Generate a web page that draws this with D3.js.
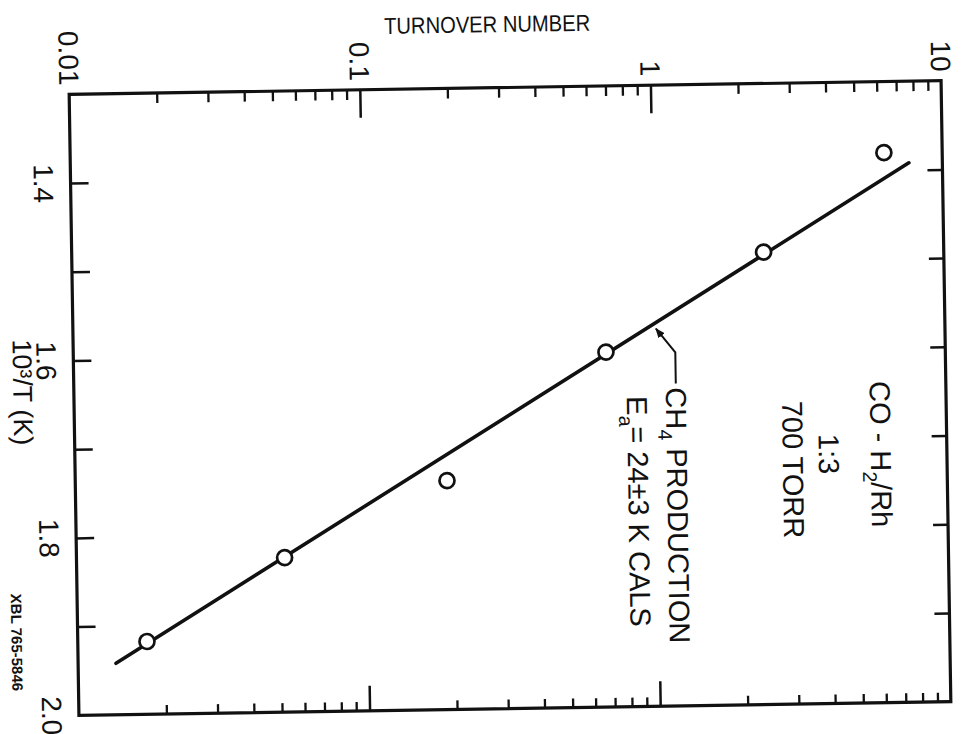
<!DOCTYPE html>
<html>
<head>
<meta charset="utf-8">
<script src="https://cdn.jsdelivr.net/npm/d3@7.9.0/dist/d3.min.js"></script>
<style>
  html, body { margin: 0; padding: 0; background: #fff; }
  svg { display: block; font-family: 'Liberation Sans', Arial, sans-serif; }
</style>
</head>
<body>
<div id="chart"></div>
<script>
// values (10^3/T in 1/K, turnover number)
const invTemp = [1.38, 1.49, 1.60, 1.742, 1.826, 1.918];
const turnover = [6.3, 2.4, 0.68, 0.19, 0.052, 0.0173];

// ends of the drawn Arrhenius fit line
const fitInvTemp = [1.392, 1.942];
const fitTurnover = [7.67, 0.0135];

const turnoverMajor = [0.01, 0.1, 1, 10];
const turnoverLabels = ['0.01', '0.1', '1', '10'];
const invTempTicks = [1.4, 1.5, 1.6, 1.7, 1.8, 1.9];
const invTempLabelVals = [1.4, 1.6, 1.8, 2.0];
const invTempLabels = ['1.4', '1.6', '1.8', '2.0'];

const width = 963;
const height = 734;
const mLeft = 74, mRight = 946, mTop = 87.5, mBottom = 708.5;

const svg = d3
  .select('#chart')
  .append('svg')
  .attr('width', width)
  .attr('height', height);

svg.append('rect').attr('width', width).attr('height', height).attr('fill', '#fff');

// the scan is tilted a little
const g = svg.append('g').attr('transform', 'rotate(-0.9, 510, 398)');

const x = d3.scaleLog().domain([0.01, 10]).range([mLeft, mRight]);
const y = d3.scaleLinear().domain([1.3, 2.0]).range([mTop, mBottom]);

// minor log ticks 2..9 in each decade
const minorTurn = [];
[0.01, 0.1, 1].forEach((d) => {
  for (let k = 2; k <= 9; k++) minorTurn.push(+(d * k).toPrecision(3));
});
const innerMajor = [0.1, 1];

function cleanAxis(sel, sw) {
  sel.select('.domain').remove();
  sel.selectAll('.tick line').attr('stroke', '#111').attr('stroke-width', sw);
  sel.selectAll('.tick text').remove();
}

// top ticks (pointing into the plot)
g.append('g')
  .attr('transform', `translate(0,${mTop})`)
  .call(d3.axisTop(x).tickValues(minorTurn).tickSizeInner(-10).tickSizeOuter(0).tickFormat(''))
  .call(cleanAxis, 2.3);
g.append('g')
  .attr('transform', `translate(0,${mTop})`)
  .call(d3.axisTop(x).tickValues(innerMajor).tickSizeInner(-28).tickSizeOuter(0).tickFormat(''))
  .call(cleanAxis, 2.5);

// bottom ticks
g.append('g')
  .attr('transform', `translate(0,${mBottom})`)
  .call(d3.axisBottom(x).tickValues(minorTurn).tickSizeInner(-9).tickSizeOuter(0).tickFormat(''))
  .call(cleanAxis, 2.3);
g.append('g')
  .attr('transform', `translate(0,${mBottom})`)
  .call(d3.axisBottom(x).tickValues(innerMajor).tickSizeInner(-25).tickSizeOuter(0).tickFormat(''))
  .call(cleanAxis, 2.5);

// left / right ticks
g.append('g')
  .attr('transform', `translate(${mLeft},0)`)
  .call(d3.axisLeft(y).tickValues(invTempTicks).tickSizeInner(-18).tickSizeOuter(0).tickFormat(''))
  .call(cleanAxis, 2.5);
g.append('g')
  .attr('transform', `translate(${mRight},0)`)
  .call(d3.axisRight(y).tickValues(invTempTicks).tickSizeInner(-15).tickSizeOuter(0).tickFormat(''))
  .call(cleanAxis, 2.5);

// frame
g.append('rect')
  .attr('x', mLeft)
  .attr('y', mTop)
  .attr('width', mRight - mLeft)
  .attr('height', mBottom - mTop)
  .attr('fill', 'none')
  .attr('stroke', '#111')
  .attr('stroke-width', 3.2);

// top tick labels, turned like the rest of the figure
g.selectAll('text.tlab')
  .data(turnoverMajor)
  .join('text')
  .attr('class', 'tlab')
  .attr('transform', (d) => `translate(${x(d)},${mTop - 9}) rotate(90)`)
  .attr('text-anchor', 'end')
  .attr('dy', '0.35em')
  .attr('font-size', 28)
  .attr('fill', '#111')
  .text((d, i) => turnoverLabels[i]);

g.append('text')
  .attr('x', 493)
  .attr('y', 32)
  .attr('text-anchor', 'middle')
  .attr('font-size', 23)
  .attr('textLength', 206)
  .attr('lengthAdjust', 'spacingAndGlyphs')
  .attr('fill', '#111')
  .text('TURNOVER NUMBER');

// left tick labels
g.selectAll('text.ylab')
  .data(invTempLabelVals)
  .join('text')
  .attr('class', 'ylab')
  .attr('transform', (d) => `translate(${mLeft - 27},${y(d)}) rotate(90)`)
  .attr('text-anchor', 'middle')
  .attr('dy', '0.35em')
  .attr('font-size', 28)
  .attr('fill', '#111')
  .text((d, i) => invTempLabels[i]);

g.append('text')
  .attr('transform', `translate(23,${y(1.635)}) rotate(90)`)
  .attr('text-anchor', 'middle')
  .attr('dy', '0.35em')
  .attr('font-size', 27)
  .attr('fill', '#111')
  .text('10³/T (K)');

g.append('text')
  .attr('transform', 'translate(13,586) rotate(90)')
  .attr('text-anchor', 'start')
  .attr('dy', '0.35em')
  .attr('font-size', 15)
  .attr('font-weight', 'bold')
  .attr('fill', '#111')
  .text('XBL 765-5846');

// fit line
const line = d3
  .line()
  .x((d) => x(d[1]))
  .y((d) => y(d[0]));
g.append('path')
  .datum(d3.zip(fitInvTemp, fitTurnover))
  .attr('d', line)
  .attr('fill', 'none')
  .attr('stroke', '#111')
  .attr('stroke-width', 3.6)
  .attr('stroke-linecap', 'round');

// measured points
g.selectAll('circle.pt')
  .data(d3.zip(invTemp, turnover))
  .join('circle')
  .attr('class', 'pt')
  .attr('cx', (d) => x(d[1]))
  .attr('cy', (d) => y(d[0]))
  .attr('r', 7.5)
  .attr('fill', '#fff')
  .attr('stroke', '#111')
  .attr('stroke-width', 2.7);

// leader from the label to the fit line
const defs = svg.append('defs');
defs
  .append('marker')
  .attr('id', 'arrow')
  .attr('viewBox', '0 0 10 10')
  .attr('refX', 9)
  .attr('refY', 5)
  .attr('markerWidth', 5)
  .attr('markerHeight', 5)
  .attr('orient', 'auto')
  .append('path')
  .attr('d', 'M0,1 L10,5 L0,9 Z')
  .attr('fill', '#111');

g.append('path')
  .attr('d', 'M676,386 L676,355 L657,331')
  .attr('fill', 'none')
  .attr('stroke', '#111')
  .attr('stroke-width', 2)
  .attr('marker-end', 'url(#arrow)');

// rotated text with optional subscripts
function rotText(cx, cy, parts, anchor, size) {
  const t = g
    .append('text')
    .attr('transform', `translate(${cx},${cy}) rotate(90)`)
    .attr('text-anchor', anchor)
    .attr('dy', '0.35em')
    .attr('font-size', size)
    .attr('fill', '#111');
  let shifted = false;
  parts.forEach((p) => {
    const ts = t.append('tspan').text(p.t);
    if (p.sub) {
      ts.attr('font-size', size * 0.68).attr('dy', size * 0.28);
      shifted = true;
    } else if (shifted) {
      ts.attr('dy', -size * 0.28);
      shifted = false;
    }
  });
  return t;
}

rotText(880, 460, [{ t: 'CO - H' }, { t: '2', sub: true }, { t: '/Rh' }], 'middle', 29);
rotText(828, 459, [{ t: '1:3' }], 'middle', 29);
rotText(792, 474, [{ t: '700 TORR' }], 'middle', 29);
rotText(676, 390, [{ t: 'CH' }, { t: '4', sub: true }, { t: '  PRODUCTION' }], 'start', 29);
rotText(637, 398, [{ t: 'E' }, { t: 'a', sub: true }, { t: '= 24±3 K CALS' }], 'start', 29);
</script>
</body>
</html>
